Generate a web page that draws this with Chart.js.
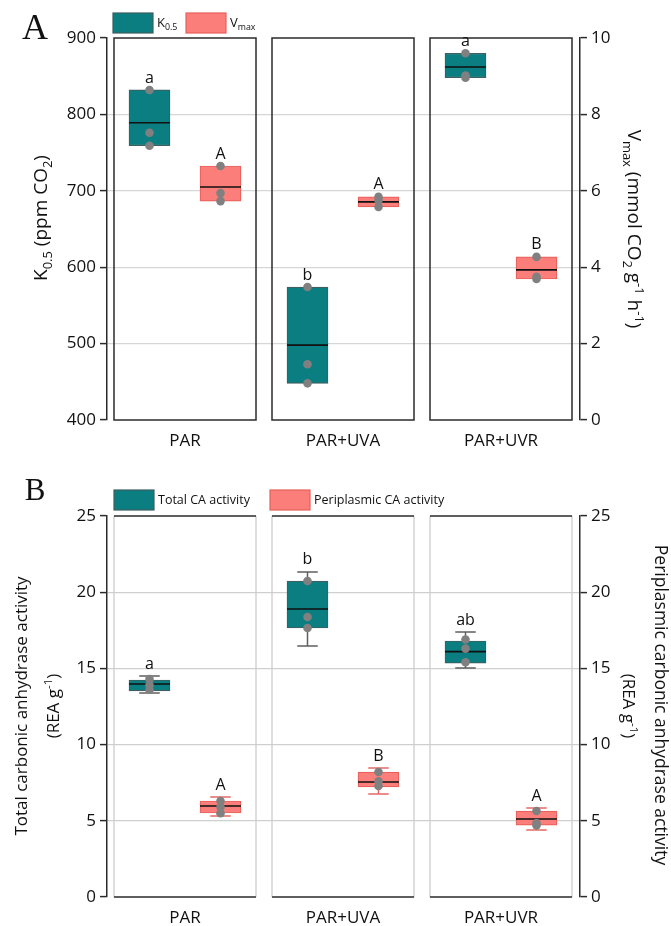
<!DOCTYPE html>
<html><head><meta charset="utf-8">
<script src="https://cdn.jsdelivr.net/npm/chart.js@4.4.1/dist/chart.umd.min.js"></script>
<style>
html,body{margin:0;padding:0;background:#fff;}
#wrap{position:relative;width:671px;height:926px;background:#fff;}
canvas{position:absolute;left:0;}
#cA{top:0;} #cB{top:450px;}
</style></head><body>
<div id="wrap">
<canvas id="cA" width="671" height="450"></canvas>
<canvas id="cB" width="671" height="476"></canvas>
</div>
<script>
const categories = ['PAR', 'PAR+UVA', 'PAR+UVR'];

// Panel A – K0.5 (ppm CO2), left axis
const k05Q1 = [759, 448, 848];
const k05Median = [789, 498, 862];
const k05Q3 = [832, 574, 880];
const k05Points = [[832, 776, 759], [574, 473, 448], [880, 851, 848]];
const k05Letters = ['a', 'b', 'a'];
// Panel A – Vmax (mmol CO2 g-1 h-1), right axis
const vmaxQ1 = [5.73, 5.58, 3.69];
const vmaxMedian = [6.10, 5.71, 3.93];
const vmaxQ3 = [6.65, 5.84, 4.27];
const vmaxPoints = [[6.65, 5.94, 5.73], [5.84, 5.75, 5.58], [4.27, 3.75, 3.69]];
const vmaxLetters = ['A', 'A', 'B'];

// Panel B – Total CA activity (REA g-1), left axis
const totalLow = [13.39, 16.47, 15.03];
const totalQ1 = [13.52, 17.65, 15.35];
const totalMedian = [13.98, 18.90, 16.10];
const totalQ3 = [14.24, 20.73, 16.80];
const totalHigh = [14.50, 21.33, 17.39];
const totalPoints = [[14.3, 13.9, 13.6], [20.73, 18.37, 17.65], [16.9, 16.3, 15.4]];
const totalLetters = ['a', 'b', 'ab'];
// Panel B – Periplasmic CA activity (REA g-1), right axis
const periLow = [5.31, 6.76, 4.40];
const periQ1 = [5.51, 7.22, 4.72];
const periMedian = [5.97, 7.55, 5.12];
const periQ3 = [6.30, 8.20, 5.64];
const periHigh = [6.56, 8.46, 5.84];
const periPoints = [[6.3, 5.9, 5.5], [8.2, 7.6, 7.28], [5.64, 4.86, 4.7]];
const periLetters = ['A', 'B', 'A'];

// Tick labels
const kTicks = [400, 500, 600, 700, 800, 900];
const vTicks = [0, 2, 4, 6, 8, 10];
const caTicks = [0, 5, 10, 15, 20, 25];

// ---------- styling / layout ----------
const TEAL = '#0a7e80', TEAL_BORDER = '#3f5f60', TEAL_WHISK = '#5f5f5f';
const PINK = '#fb7e7a', PINK_BORDER = '#e8605c', PINK_WHISK = '#e46a66';
const DOT = '#808080';
const TXT = '#111';
const FONT = 'Open Sans';
const GAP = 16 / 142;
const OFFS = [0.25, 0.75];
function facetStart(i) { return i * (1 + GAP); }

function fontStr(size, family) { return size + 'px "' + family + '"'; }
function partFont(p, base, family) { return fontStr((p.sub || p.sup) ? base * 0.68 : base, family); }
function richWidth(ctx, parts, base, family) {
  let w = 0;
  parts.forEach(p => { ctx.font = partFont(p, base, family); w += ctx.measureText(p.t).width; });
  return w;
}
function drawRich(ctx, parts, x, y, rot, base, family, color, align) {
  ctx.save();
  ctx.translate(x, y); ctx.rotate(rot);
  ctx.fillStyle = color; ctx.textBaseline = 'middle'; ctx.textAlign = 'left';
  const w = richWidth(ctx, parts, base, family);
  let cx = align === 'left' ? 0 : -w / 2;
  parts.forEach(p => {
    ctx.font = partFont(p, base, family);
    const dy = p.sub ? base * 0.32 : (p.sup ? -base * 0.32 : 0);
    ctx.fillText(p.t, cx, dy);
    cx += ctx.measureText(p.t).width;
  });
  ctx.restore();
}

const extras = {
  id: 'extras',
  beforeDatasetsDraw(chart, args, o) {
    const ctx = chart.ctx, xs = chart.scales.x, ca = chart.chartArea;
    ctx.save();
    categories.forEach((c, i) => {
      const l = xs.getPixelForValue(facetStart(i)), r = xs.getPixelForValue(facetStart(i) + 1);
      if (o.frame === 'full') {
        ctx.strokeStyle = '#2b2b2b'; ctx.lineWidth = 1.5;
        ctx.strokeRect(l, ca.top, r - l, ca.bottom - ca.top);
      } else {
        ctx.strokeStyle = '#cdcdcd'; ctx.lineWidth = 1.3;
        ctx.beginPath(); ctx.moveTo(l, ca.top); ctx.lineTo(l, ca.bottom);
        ctx.moveTo(r, ca.top); ctx.lineTo(r, ca.bottom); ctx.stroke();
        ctx.strokeStyle = '#2b2b2b'; ctx.lineWidth = 1.5;
        ctx.beginPath(); ctx.moveTo(l, ca.top); ctx.lineTo(r, ca.top);
        ctx.moveTo(l, ca.bottom); ctx.lineTo(r, ca.bottom); ctx.stroke();
      }
    });
    ctx.restore();
  },
  afterDatasetDraw(chart, args) {
    const ds = chart.data.datasets[args.index];
    if (!ds._series) return;
    const s = ds._series, ys = chart.scales[s.axis], ctx = chart.ctx;
    ctx.save();
    categories.forEach((c, i) => {
      const el = args.meta.data[i];
      const xc = el.x, half = el.width / 2, cap = half / 2;
      const yq1 = ys.getPixelForValue(s.q1[i]), yq3 = ys.getPixelForValue(s.q3[i]);
      ctx.strokeStyle = s.whisker; ctx.lineWidth = 1.5;
      if (s.high && s.high[i] > s.q3[i]) {
        const yh = ys.getPixelForValue(s.high[i]);
        ctx.beginPath(); ctx.moveTo(xc, yq3); ctx.lineTo(xc, yh);
        ctx.moveTo(xc - cap, yh); ctx.lineTo(xc + cap, yh); ctx.stroke();
      }
      if (s.low && s.low[i] < s.q1[i]) {
        const yl = ys.getPixelForValue(s.low[i]);
        ctx.beginPath(); ctx.moveTo(xc, yq1); ctx.lineTo(xc, yl);
        ctx.moveTo(xc - cap, yl); ctx.lineTo(xc + cap, yl); ctx.stroke();
      }
      const ym = ys.getPixelForValue(s.median[i]);
      ctx.strokeStyle = '#111'; ctx.lineWidth = 1.6;
      ctx.beginPath(); ctx.moveTo(xc - half, ym); ctx.lineTo(xc + half, ym); ctx.stroke();
    });
    ctx.restore();
  },
  afterDraw(chart, args, o) {
    const ctx = chart.ctx;
    // significance letters
    chart.data.datasets.forEach((ds, di) => {
      if (!ds._series) return;
      const s = ds._series, ys = chart.scales[s.axis];
      const meta = chart.getDatasetMeta(di);
      categories.forEach((c, i) => {
        const top = s.high ? s.high[i] : s.q3[i];
        ctx.save();
        ctx.font = fontStr(16, FONT); ctx.fillStyle = TXT;
        ctx.textAlign = 'center'; ctx.textBaseline = 'middle';
        ctx.fillText(s.letters[i], meta.data[i].x, ys.getPixelForValue(top) - 12);
        ctx.restore();
      });
    });
    // axis titles
    o.titles.forEach(t => drawRich(ctx, t.parts, t.x, t.y, t.rot, t.size, FONT, TXT));
    // legend
    o.legend.forEach(l => {
      ctx.save();
      ctx.fillStyle = l.fill; ctx.strokeStyle = l.border; ctx.lineWidth = 1.2;
      ctx.fillRect(l.x, l.y, 40, 20); ctx.strokeRect(l.x, l.y, 40, 20);
      ctx.restore();
      drawRich(ctx, l.parts, l.x + 44, l.y + 10, 0, l.size, FONT, TXT, 'left');
    });
    // panel label
    ctx.save();
    ctx.font = fontStr(o.label.size, 'Liberation Serif'); ctx.fillStyle = '#111';
    ctx.textAlign = 'center'; ctx.textBaseline = 'middle';
    ctx.fillText(o.label.t, o.label.x, o.label.y);
    ctx.restore();
  }
};

function buildPanel(canvasId, p) {
  const datasets = [];
  p.series.forEach((s, k) => {
    datasets.push({
      type: 'bar', _series: s, yAxisID: s.axis, order: 2,
      data: categories.map((c, i) => ({ x: facetStart(i) + OFFS[k], y: [s.q1[i], s.q3[i]] })),
      backgroundColor: s.fill, borderColor: s.border, borderWidth: 1.2,
      borderSkipped: false, barThickness: 41, grouped: false
    });
  });
  p.series.forEach((s, k) => {
    const pts = [];
    categories.forEach((c, i) => s.points[i].forEach(v => pts.push({ x: facetStart(i) + OFFS[k], y: v })));
    datasets.push({
      type: 'scatter', yAxisID: s.axis, order: 0, data: pts,
      pointRadius: 4.3, pointBackgroundColor: DOT, pointBorderWidth: 0, showLine: false
    });
  });
  const yScale = (ticks, pos) => ({
    type: 'linear', position: pos, min: ticks[0], max: ticks[ticks.length - 1],
    border: { display: true, color: '#2b2b2b', width: 1.5 },
    grid: {
      display: true, drawOnChartArea: pos === 'left', drawTicks: true, tickLength: 7, tickWidth: 1.5,
      tickColor: '#2b2b2b', lineWidth: 1.2,
      color: c => (c.tick && (c.tick.value === ticks[0] || c.tick.value === ticks[ticks.length - 1])) ? 'rgba(0,0,0,0)' : p.gridColor
    },
    ticks: { stepSize: ticks[1] - ticks[0], padding: 4, color: TXT, font: { family: FONT, size: 17 } },
    afterFit: sc => { sc.width = pos === 'left' ? 107 : 91; }
  });
  return new Chart(document.getElementById(canvasId), {
    type: 'bar',
    data: { datasets },
    options: {
      responsive: false, animation: false, events: [],
      layout: { padding: { top: p.top, left: 0, right: 0, bottom: 0 } },
      scales: {
        x: {
          type: 'linear', min: -7 / 142, max: 3 + 2 * GAP + 8 / 142, offset: false, bounds: 'data',
          grid: { display: false, drawTicks: false, offset: false }, border: { display: false },
          afterBuildTicks: sc => { sc.ticks = categories.map((c, i) => ({ value: facetStart(i) + 0.5 })); },
          ticks: { autoSkip: false, maxRotation: 0, minRotation: 0, padding: 11, color: TXT,
                   font: { family: FONT, size: 17 }, callback: (v, i) => categories[i] },
          afterFit: sc => { sc.height = p.xh; }
        },
        y: yScale(p.yTicks, 'left'),
        y1: yScale(p.y1Ticks, 'right')
      },
      plugins: {
        legend: { display: false }, tooltip: { enabled: false },
        extras: { frame: p.frame, titles: p.titles, legend: p.legend, label: p.label }
      }
    },
    plugins: [extras]
  });
}

buildPanel('cA', {
  top: 38, xh: 30, frame: 'full', gridColor: '#d6d6d6',
  yTicks: kTicks, y1Ticks: vTicks,
  series: [
    { axis: 'y', q1: k05Q1, median: k05Median, q3: k05Q3, points: k05Points, letters: k05Letters,
      fill: TEAL, border: TEAL_BORDER, whisker: TEAL_WHISK },
    { axis: 'y1', q1: vmaxQ1, median: vmaxMedian, q3: vmaxQ3, points: vmaxPoints, letters: vmaxLetters,
      fill: PINK, border: PINK_BORDER, whisker: PINK_WHISK }
  ],
  titles: [
    { x: 42, y: 218, rot: -Math.PI / 2, size: 19,
      parts: [{ t: 'K' }, { t: '0.5', sub: 1 }, { t: ' (ppm CO' }, { t: '2', sub: 1 }, { t: ')' }] },
    { x: 633, y: 229, rot: Math.PI / 2, size: 19,
      parts: [{ t: 'V' }, { t: 'max', sub: 1 }, { t: ' (mmol CO' }, { t: '2', sub: 1 }, { t: ' g' }, { t: '-1', sup: 1 },
              { t: ' h' }, { t: '-1', sup: 1 }, { t: ')' }] }
  ],
  legend: [
    { x: 113, y: 13, fill: TEAL, border: TEAL_BORDER, size: 13, parts: [{ t: 'K' }, { t: '0.5', sub: 1 }] },
    { x: 186, y: 13, fill: PINK, border: PINK_BORDER, size: 13, parts: [{ t: 'V' }, { t: 'max', sub: 1 }] }
  ],
  label: { t: 'A', x: 35, y: 30, size: 36 }
});

buildPanel('cB', {
  top: 66, xh: 29, frame: 'tb', gridColor: '#cfcfcf',
  yTicks: caTicks, y1Ticks: caTicks,
  series: [
    { axis: 'y', low: totalLow, q1: totalQ1, median: totalMedian, q3: totalQ3, high: totalHigh,
      points: totalPoints, letters: totalLetters, fill: TEAL, border: TEAL_BORDER, whisker: TEAL_WHISK },
    { axis: 'y1', low: periLow, q1: periQ1, median: periMedian, q3: periQ3, high: periHigh,
      points: periPoints, letters: periLetters, fill: PINK, border: PINK_BORDER, whisker: PINK_WHISK }
  ],
  titles: [
    { x: 22, y: 256, rot: -Math.PI / 2, size: 17, parts: [{ t: 'Total carbonic anhydrase activity' }] },
    { x: 54, y: 256, rot: -Math.PI / 2, size: 17, parts: [{ t: '(REA g' }, { t: '-1', sup: 1 }, { t: ')' }] },
    { x: 660, y: 255, rot: Math.PI / 2, size: 17.5, parts: [{ t: 'Periplasmic carbonic anhydrase activity' }] },
    { x: 628, y: 256, rot: Math.PI / 2, size: 17, parts: [{ t: '(REA g' }, { t: '-1', sup: 1 }, { t: ')' }] }
  ],
  legend: [
    { x: 114, y: 40, fill: TEAL, border: TEAL_BORDER, size: 12.5, parts: [{ t: 'Total CA activity' }] },
    { x: 270, y: 40, fill: PINK, border: PINK_BORDER, size: 12.5, parts: [{ t: 'Periplasmic CA activity' }] }
  ],
  label: { t: 'B', x: 35, y: 42, size: 31 }
});
</script>
</body></html>
